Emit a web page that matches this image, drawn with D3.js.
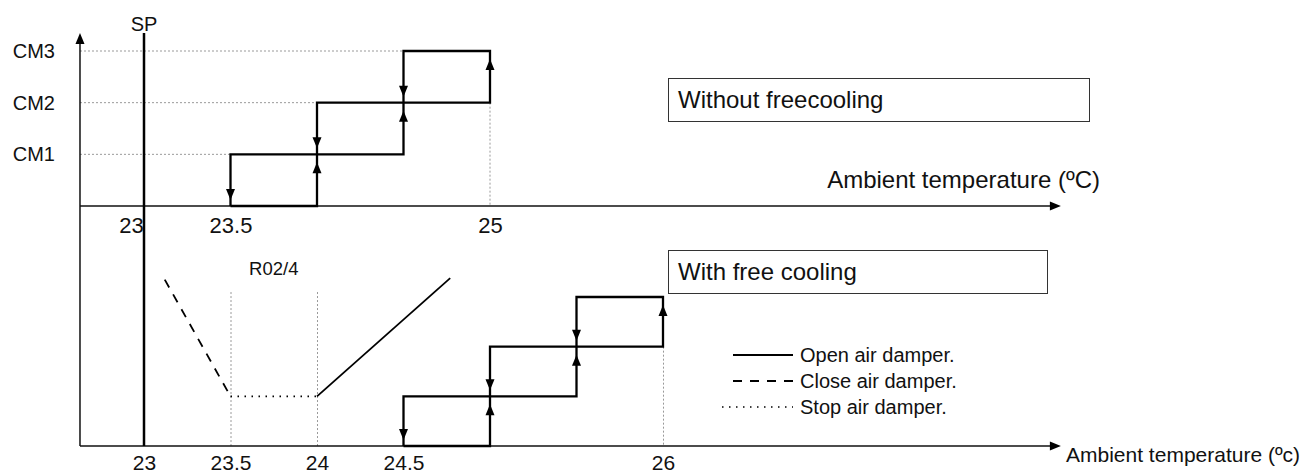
<!DOCTYPE html>
<html><head><meta charset="utf-8">
<script src="https://cdn.jsdelivr.net/npm/d3@7"></script>
<style>
html,body{margin:0;padding:0;background:#fff;}
text{font-family:"Liberation Sans",Arial,sans-serif;fill:#111;}
</style></head>
<body>
<svg id="c" width="1308" height="476"></svg>
<script>
// ---------- data ----------
const stageLabels = ["CM1","CM2","CM3"];
const stageValues = [1,2,3];
const topTicks = [23, 23.5, 25];
const bottomTicks = [23, 23.5, 24, 24.5, 26];
const setPoint = 23;
const topLoop = [[23.5,0],[24,0],[24,1],[24.5,1],[24.5,2],[25,2],[25,3],[24.5,3],[24.5,2],[24,2],[24,1],[23.5,1],[23.5,0]];
const bottomLoop = [[24.5,0],[25,0],[25,1],[25.5,1],[25.5,2],[26,2],[26,3],[25.5,3],[25.5,2],[25,2],[25,1],[24.5,1],[24.5,0]];
const topArrows = [[23.5,1,0],[24,0,1],[24,2,1],[24.5,1,2],[24.5,3,2],[25,2,3]];
const bottomArrows = [[24.5,1,0],[25,0,1],[25,2,1],[25.5,1,2],[25.5,3,2],[26,2,3]];
const topGrid = [[1,23.5],[2,24],[3,24.5]];          // stage, temp where dotted line ends
const topVGrid = [[25,2]];                            // temp, from stage down to 0
const bottomVGrid = [[23.5,3.1],[24,3.1],[26,2]];
const damperClose = [[23.12,3.35],[23.5,1]];
const damperStop = [[23.5,1],[24,1]];
const damperOpen = [[24,1],[24.77,3.38]];
const legendItems = [["Open air damper.","solid"],["Close air damper.","dash"],["Stop air damper.","dot"]];
const axisExtent = [22.63, 28.3];

// ---------- scales ----------
const svg = d3.select("#c");
const x = d3.scaleLinear().domain([23,26]).range([144,663]);
const yTop = d3.scaleLinear().domain([0,3]).range([206,51]);
const yBot = d3.scaleLinear().domain([0,3]).range([446,297]);
const FS = 20;
const styles = {solid:null, dash:"9,8", dot:"1.5,5.5"};

function arrowHead(g, px, py, dir, size) {
  const w = 4.5, h = size || 11;
  const d = dir === "up"
    ? `M${px},${py} L${px-w},${py+h} L${px+w},${py+h} Z`
    : dir === "down"
    ? `M${px},${py} L${px-w},${py-h} L${px+w},${py-h} Z`
    : `M${px},${py} L${px-h},${py-w} L${px-h},${py+w} Z`;
  g.append("path").attr("d", d).attr("fill", "#000");
}

// ---------- gridlines ----------
const grid = svg.append("g").attr("stroke","#999").attr("stroke-width",1).attr("stroke-dasharray","2,2");
topGrid.forEach(([s,t]) => grid.append("line").attr("x1",x(axisExtent[0])).attr("x2",x(t)).attr("y1",yTop(s)).attr("y2",yTop(s)));
topVGrid.forEach(([t,s]) => grid.append("line").attr("x1",x(t)).attr("x2",x(t)).attr("y1",yTop(s)).attr("y2",yTop(0)));
bottomVGrid.forEach(([t,s]) => grid.append("line").attr("x1",x(t)+0.5).attr("x2",x(t)+0.5).attr("y1",yBot(s)).attr("y2",yBot(0)));

// ---------- axes ----------
const ax = svg.append("g").attr("stroke","#111").attr("stroke-width",1.5);
ax.append("line").attr("x1",x(axisExtent[0])).attr("x2",x(axisExtent[0])).attr("y1",yBot(0)).attr("y2",40);
arrowHead(svg, x(axisExtent[0]), 33, "up", 11);
ax.append("line").attr("x1",x(axisExtent[0])).attr("x2",x(axisExtent[1])-8).attr("y1",yTop(0)).attr("y2",yTop(0));
arrowHead(svg, x(axisExtent[1]), yTop(0), "right", 11);
ax.append("line").attr("x1",x(axisExtent[0])).attr("x2",x(axisExtent[1])-8).attr("y1",yBot(0)).attr("y2",yBot(0));
arrowHead(svg, x(axisExtent[1]), yBot(0), "right", 11);

// SP line
svg.append("line").attr("x1",x(setPoint)).attr("x2",x(setPoint)).attr("y1",33).attr("y2",yBot(0))
  .attr("stroke","#000").attr("stroke-width",2.5);
svg.append("text").attr("x",x(setPoint)).attr("y",31).attr("text-anchor","middle").attr("font-size",20).text("SP");

// y axis labels
const yAxis = d3.axisLeft(yTop).tickValues(stageValues).tickSize(0).tickPadding(25)
  .tickFormat((d,i)=>stageLabels[i]);
const yg = svg.append("g").attr("transform",`translate(${x(axisExtent[0])},0)`).call(yAxis);
yg.select(".domain").remove();
yg.selectAll("text").attr("font-size",FS).attr("font-family","Liberation Sans, Arial, sans-serif").attr("fill","#111");

// x tick labels
const xTopAxis = d3.axisBottom(x).tickValues(topTicks).tickSize(0).tickPadding(11).tickFormat(d3.format("~g"));
const xt = svg.append("g").attr("transform",`translate(0,${yTop(0)})`).call(xTopAxis);
xt.select(".domain").remove();
xt.selectAll("text").attr("font-size",22).attr("font-family","Liberation Sans, Arial, sans-serif").attr("fill","#111")
  .attr("dx",d=>d===setPoint?-13:0);
const xBotAxis = d3.axisBottom(x).tickValues(bottomTicks).tickSize(0).tickPadding(9).tickFormat(d3.format("~g"));
const xb = svg.append("g").attr("transform",`translate(0,${yBot(0)})`).call(xBotAxis);
xb.select(".domain").remove();
xb.selectAll("text").attr("font-size",21).attr("font-family","Liberation Sans, Arial, sans-serif").attr("fill","#111");

svg.append("text").attr("x",1100).attr("y",188).attr("text-anchor","end").attr("font-size",24).text("Ambient temperature (ºC)");
svg.append("text").attr("x",1066).attr("y",462).attr("font-size",21).text("Ambient temperature (ºc)");

// ---------- staircases ----------
function stair(points, y, arrows) {
  const line = d3.line().x(d=>x(d[0])).y(d=>y(d[1]));
  svg.append("path").attr("d",line(points)).attr("fill","none").attr("stroke","#000")
    .attr("stroke-width",2.3).attr("stroke-linejoin","miter");
  arrows.forEach(([t,from,to]) => {
    const dir = to > from ? "up" : "down";
    const py = y(to) + (dir === "up" ? 8 : -6);
    arrowHead(svg, x(t), py, dir, 11);
  });
}
stair(topLoop, yTop, topArrows);
stair(bottomLoop, yBot, bottomArrows);

// ---------- damper lines ----------
const dl = d3.line().x(d=>x(d[0])).y(d=>yBot(d[1]));
[[damperClose,"dash"],[damperStop,"dot"],[damperOpen,"solid"]].forEach(([pts,s]) => {
  svg.append("path").attr("d",dl(pts)).attr("fill","none").attr("stroke","#000").attr("stroke-width",1.8)
    .attr("stroke-dasharray",styles[s]);
});
svg.append("text").attr("x",(x(23.5)+x(24))/2).attr("y",275).attr("text-anchor","middle").attr("font-size",18.5).text("R02/4");

// ---------- boxes ----------
svg.append("rect").attr("x",668.5).attr("y",78.5).attr("width",421).attr("height",43).attr("fill","none").attr("stroke","#333");
svg.append("text").attr("x",678).attr("y",108).attr("font-size",24).text("Without freecooling");
svg.append("rect").attr("x",668.5).attr("y",250.5).attr("width",379).attr("height",43).attr("fill","none").attr("stroke","#333");
svg.append("text").attr("x",678).attr("y",280).attr("font-size",24).text("With free cooling");

// ---------- legend ----------
legendItems.forEach(([label,s],i) => {
  const ly = 355 + i*26;
  svg.append("line").attr("x1", s==="dot"?722:733).attr("x2",793).attr("y1",ly).attr("y2",ly)
    .attr("stroke","#000").attr("stroke-width", s==="dot"?1.3:2.2).attr("stroke-dasharray",styles[s]);
  svg.append("text").attr("x",800).attr("y",ly+7).attr("font-size",FS).text(label);
});
</script>
</body></html>
